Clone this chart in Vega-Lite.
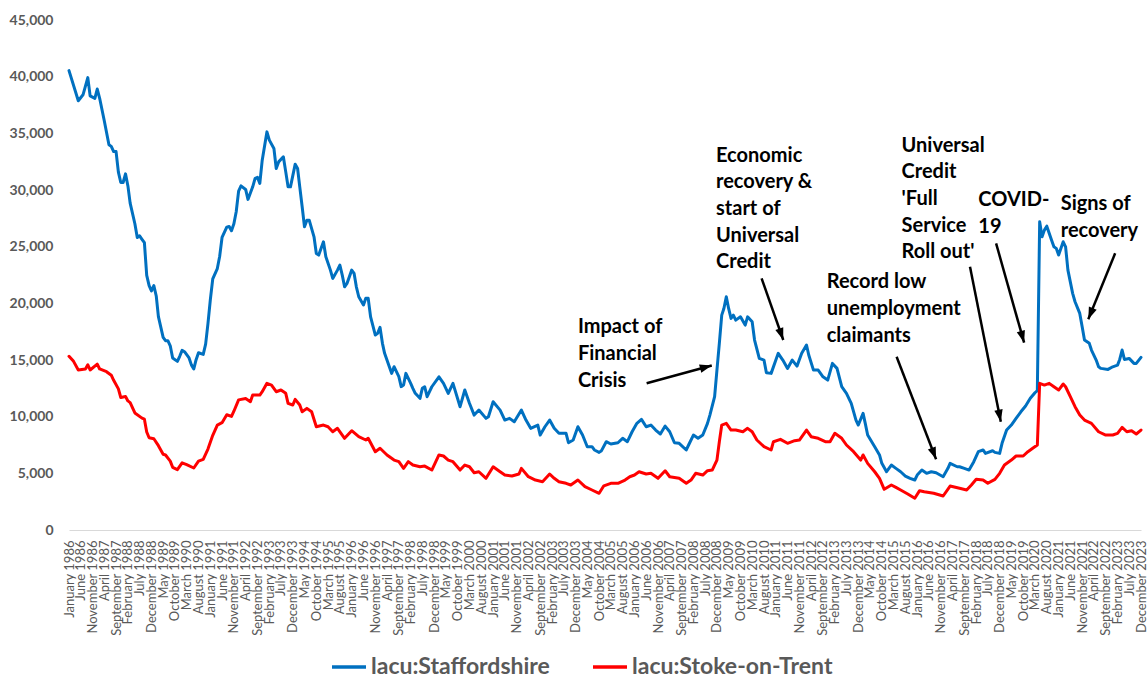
{
  "$schema": "https://vega.github.io/schema/vega-lite/v6.json",
  "width": 1072,
  "height": 510,
  "autosize": {"type": "none"},
  "padding": {"left": 69, "top": 20, "right": 6, "bottom": 149},
  "background": "white",
  "config": {
    "view": {"stroke": null},
    "font": "Lato",
    "axis": {"grid": false, "ticks": false, "tickSize": 0, "title": null}
  },
  "datasets": {
    "staffordshire": [
      {"month":"1986-01","claimants":40530},{"month":"1986-05","claimants":37880},{"month":"1986-07","claimants":38400},{"month":"1986-09","claimants":39920},{"month":"1986-10","claimants":38310},{"month":"1986-12","claimants":38090},
      {"month":"1987-01","claimants":38910},{"month":"1987-02","claimants":38090},{"month":"1987-04","claimants":36130},{"month":"1987-06","claimants":34000},{"month":"1987-07","claimants":33850},{"month":"1987-08","claimants":33390},{"month":"1987-09","claimants":33390},{"month":"1987-10","claimants":31570},{"month":"1987-11","claimants":30660},{"month":"1987-12","claimants":30660},
      {"month":"1988-01","claimants":31420},{"month":"1988-02","claimants":30360},{"month":"1988-03","claimants":28840},{"month":"1988-05","claimants":27020},{"month":"1988-06","claimants":25810},{"month":"1988-07","claimants":25960},{"month":"1988-08","claimants":25650},{"month":"1988-09","claimants":25350},{"month":"1988-10","claimants":22460},{"month":"1988-11","claimants":21560},{"month":"1988-12","claimants":21100},
      {"month":"1989-01","claimants":21560},{"month":"1989-02","claimants":20650},{"month":"1989-03","claimants":18820},{"month":"1989-05","claimants":17000},{"month":"1989-06","claimants":16700},{"month":"1989-07","claimants":16700},{"month":"1989-08","claimants":16250},{"month":"1989-09","claimants":15180},{"month":"1989-11","claimants":14880},{"month":"1989-12","claimants":15330},
      {"month":"1990-01","claimants":15850},{"month":"1990-02","claimants":15730},{"month":"1990-04","claimants":15180},{"month":"1990-05","claimants":14570},{"month":"1990-06","claimants":14210},{"month":"1990-07","claimants":15030},{"month":"1990-08","claimants":15640},{"month":"1990-10","claimants":15490},{"month":"1990-11","claimants":16400},{"month":"1990-12","claimants":18210},
      {"month":"1991-01","claimants":20340},{"month":"1991-02","claimants":22160},{"month":"1991-04","claimants":23070},{"month":"1991-05","claimants":24130},{"month":"1991-06","claimants":25810},{"month":"1991-08","claimants":26720},{"month":"1991-09","claimants":26780},{"month":"1991-10","claimants":26410},{"month":"1991-11","claimants":27020},{"month":"1991-12","claimants":28080},
      {"month":"1992-01","claimants":29900},{"month":"1992-02","claimants":30360},{"month":"1992-04","claimants":30050},{"month":"1992-05","claimants":29170},{"month":"1992-07","claimants":30280},{"month":"1992-08","claimants":31020},{"month":"1992-09","claimants":31110},{"month":"1992-10","claimants":30580},{"month":"1992-11","claimants":32630},
      {"month":"1993-01","claimants":35130},{"month":"1993-02","claimants":34400},{"month":"1993-04","claimants":33670},{"month":"1993-05","claimants":31900},{"month":"1993-06","claimants":32480},{"month":"1993-08","claimants":32930},{"month":"1993-09","claimants":31600},{"month":"1993-10","claimants":30280},{"month":"1993-11","claimants":30280},
      {"month":"1994-01","claimants":32280},{"month":"1994-02","claimants":31900},{"month":"1994-03","claimants":30280},{"month":"1994-04","claimants":28520},{"month":"1994-05","claimants":26750},{"month":"1994-06","claimants":27340},{"month":"1994-07","claimants":27340},{"month":"1994-09","claimants":25870},{"month":"1994-10","claimants":24400},{"month":"1994-11","claimants":24260},
      {"month":"1995-01","claimants":25430},{"month":"1995-02","claimants":24110},{"month":"1995-04","claimants":22930},{"month":"1995-05","claimants":22200},{"month":"1995-07","claimants":22930},{"month":"1995-08","claimants":23370},{"month":"1995-09","claimants":22490},{"month":"1995-10","claimants":21460},{"month":"1995-11","claimants":21760},
      {"month":"1996-01","claimants":22930},{"month":"1996-02","claimants":22640},{"month":"1996-03","claimants":21460},{"month":"1996-04","claimants":20580},{"month":"1996-06","claimants":19850},{"month":"1996-07","claimants":20440},{"month":"1996-08","claimants":20440},{"month":"1996-09","claimants":18810},{"month":"1996-11","claimants":17200},{"month":"1996-12","claimants":17350},
      {"month":"1997-01","claimants":17880},{"month":"1997-02","claimants":16470},{"month":"1997-03","claimants":15590},{"month":"1997-05","claimants":14410},{"month":"1997-06","claimants":13820},{"month":"1997-07","claimants":14410},{"month":"1997-09","claimants":13530},{"month":"1997-10","claimants":12650},{"month":"1997-11","claimants":12790},{"month":"1997-12","claimants":13820},
      {"month":"1998-02","claimants":12940},{"month":"1998-03","claimants":12500},{"month":"1998-04","claimants":12060},{"month":"1998-06","claimants":11620},{"month":"1998-07","claimants":12500},{"month":"1998-08","claimants":12640},{"month":"1998-09","claimants":11760},{"month":"1998-11","claimants":12640},
      {"month":"1999-02","claimants":13520},{"month":"1999-04","claimants":12940},{"month":"1999-06","claimants":12060},{"month":"1999-08","claimants":12940},{"month":"1999-11","claimants":10880},
      {"month":"2000-01","claimants":12350},{"month":"2000-03","claimants":11180},{"month":"2000-05","claimants":10140},{"month":"2000-07","claimants":10580},{"month":"2000-10","claimants":9850},{"month":"2000-11","claimants":9990},
      {"month":"2001-01","claimants":11320},{"month":"2001-04","claimants":10580},{"month":"2001-06","claimants":9700},{"month":"2001-08","claimants":9850},{"month":"2001-10","claimants":9550},
      {"month":"2002-01","claimants":10580},{"month":"2002-03","claimants":9700},{"month":"2002-05","claimants":8970},{"month":"2002-08","claimants":9260},{"month":"2002-09","claimants":8380},{"month":"2002-11","claimants":9110},
      {"month":"2003-01","claimants":9700},{"month":"2003-03","claimants":8970},{"month":"2003-05","claimants":8530},{"month":"2003-08","claimants":8530},{"month":"2003-09","claimants":7700},{"month":"2003-11","claimants":7940},
      {"month":"2004-01","claimants":9110},{"month":"2004-03","claimants":8380},{"month":"2004-05","claimants":7350},{"month":"2004-07","claimants":7350},{"month":"2004-08","claimants":7060},{"month":"2004-10","claimants":6850},{"month":"2004-11","claimants":7000},
      {"month":"2005-01","claimants":7790},{"month":"2005-03","claimants":7590},{"month":"2005-06","claimants":7700},{"month":"2005-08","claimants":8090},{"month":"2005-10","claimants":7790},{"month":"2005-12","claimants":8670},
      {"month":"2006-02","claimants":9410},{"month":"2006-04","claimants":9760},{"month":"2006-06","claimants":9110},{"month":"2006-08","claimants":9260},{"month":"2006-10","claimants":8820},{"month":"2006-12","claimants":8470},
      {"month":"2007-02","claimants":9170},{"month":"2007-04","claimants":8670},{"month":"2007-06","claimants":7700},{"month":"2007-08","claimants":7650},{"month":"2007-11","claimants":7060},{"month":"2007-12","claimants":7500},
      {"month":"2008-02","claimants":8380},{"month":"2008-04","claimants":8090},{"month":"2008-06","claimants":8380},{"month":"2008-08","claimants":9410},{"month":"2008-09","claimants":10140},{"month":"2008-11","claimants":11760},{"month":"2008-12","claimants":14110},
      {"month":"2009-01","claimants":16470},{"month":"2009-02","claimants":18960},{"month":"2009-03","claimants":19550},{"month":"2009-04","claimants":20580},{"month":"2009-05","claimants":19550},{"month":"2009-06","claimants":18670},{"month":"2009-07","claimants":18960},{"month":"2009-08","claimants":18520},{"month":"2009-10","claimants":18810},{"month":"2009-12","claimants":18080},
      {"month":"2010-01","claimants":18810},{"month":"2010-03","claimants":18370},{"month":"2010-04","claimants":16760},{"month":"2010-06","claimants":15140},{"month":"2010-08","claimants":14990},{"month":"2010-09","claimants":13870},{"month":"2010-11","claimants":13820},
      {"month":"2011-01","claimants":14990},{"month":"2011-02","claimants":15590},{"month":"2011-03","claimants":15300},{"month":"2011-04","claimants":14990},{"month":"2011-06","claimants":14260},{"month":"2011-08","claimants":14990},{"month":"2011-10","claimants":14460},{"month":"2011-12","claimants":15590},
      {"month":"2012-02","claimants":16320},{"month":"2012-03","claimants":15440},{"month":"2012-05","claimants":14110},{"month":"2012-07","claimants":14110},{"month":"2012-09","claimants":13520},{"month":"2012-11","claimants":13230},
      {"month":"2013-01","claimants":14700},{"month":"2013-03","claimants":14260},{"month":"2013-05","claimants":12640},{"month":"2013-07","claimants":12060},{"month":"2013-09","claimants":11180},{"month":"2013-11","claimants":9700},{"month":"2013-12","claimants":9260},
      {"month":"2014-02","claimants":10290},{"month":"2014-03","claimants":9410},{"month":"2014-04","claimants":8380},{"month":"2014-07","claimants":7350},{"month":"2014-09","claimants":6620},{"month":"2014-10","claimants":5880},{"month":"2014-12","claimants":5140},
      {"month":"2015-02","claimants":5730},{"month":"2015-04","claimants":5440},{"month":"2015-06","claimants":5140},{"month":"2015-08","claimants":4760},{"month":"2015-10","claimants":4560},{"month":"2015-12","claimants":4410},
      {"month":"2016-01","claimants":4850},{"month":"2016-03","claimants":5290},{"month":"2016-05","claimants":5000},{"month":"2016-07","claimants":5140},{"month":"2016-09","claimants":5050},{"month":"2016-12","claimants":4700},
      {"month":"2017-02","claimants":5440},{"month":"2017-03","claimants":5880},{"month":"2017-06","claimants":5580},{"month":"2017-07","claimants":5580},{"month":"2017-09","claimants":5440},{"month":"2017-11","claimants":5290},
      {"month":"2018-01","claimants":6030},{"month":"2018-03","claimants":6910},{"month":"2018-05","claimants":7060},{"month":"2018-06","claimants":6760},{"month":"2018-09","claimants":6990},{"month":"2018-10","claimants":6850},{"month":"2018-12","claimants":6760},
      {"month":"2019-01","claimants":7650},{"month":"2019-03","claimants":8820},{"month":"2019-05","claimants":9260},{"month":"2019-07","claimants":9850},{"month":"2019-09","claimants":10430},{"month":"2019-11","claimants":10940},
      {"month":"2020-01","claimants":11620},{"month":"2020-03","claimants":12110},{"month":"2020-04","claimants":12300},{"month":"2020-05","claimants":27190},{"month":"2020-06","claimants":25870},{"month":"2020-07","claimants":26460},{"month":"2020-08","claimants":26810},{"month":"2020-10","claimants":25580},{"month":"2020-11","claimants":24990},{"month":"2020-12","claimants":24850},
      {"month":"2021-01","claimants":24260},{"month":"2021-03","claimants":25430},{"month":"2021-04","claimants":24990},{"month":"2021-05","claimants":22930},{"month":"2021-07","claimants":20880},{"month":"2021-08","claimants":20140},{"month":"2021-10","claimants":19110},{"month":"2021-11","claimants":17930},{"month":"2021-12","claimants":16760},
      {"month":"2022-02","claimants":16470},{"month":"2022-03","claimants":15880},{"month":"2022-05","claimants":14990},{"month":"2022-06","claimants":14400},{"month":"2022-07","claimants":14260},{"month":"2022-10","claimants":14170},{"month":"2022-12","claimants":14400},
      {"month":"2023-02","claimants":14550},{"month":"2023-03","claimants":15050},{"month":"2023-04","claimants":15880},{"month":"2023-05","claimants":15050},{"month":"2023-07","claimants":15140},{"month":"2023-09","claimants":14700},{"month":"2023-10","claimants":14700},{"month":"2023-12","claimants":15230}
    ],
    "stoke": [
      {"month":"1986-01","claimants":15330},{"month":"1986-03","claimants":14880},{"month":"1986-05","claimants":14120},{"month":"1986-08","claimants":14210},{"month":"1986-09","claimants":14570},{"month":"1986-10","claimants":14120},
      {"month":"1987-01","claimants":14630},{"month":"1987-02","claimants":14210},{"month":"1987-05","claimants":13970},{"month":"1987-07","claimants":13660},{"month":"1987-08","claimants":13210},{"month":"1987-10","claimants":12450},{"month":"1987-11","claimants":11690},
      {"month":"1988-01","claimants":11780},{"month":"1988-02","claimants":11390},{"month":"1988-03","claimants":11240},{"month":"1988-05","claimants":10330},{"month":"1988-08","claimants":9870},{"month":"1988-09","claimants":9780},{"month":"1988-10","claimants":8650},{"month":"1988-11","claimants":8140},
      {"month":"1989-01","claimants":8050},{"month":"1989-03","claimants":7440},{"month":"1989-05","claimants":6680},{"month":"1989-06","claimants":6620},{"month":"1989-08","claimants":6080},{"month":"1989-09","claimants":5530},{"month":"1989-11","claimants":5320},
      {"month":"1990-01","claimants":5930},{"month":"1990-03","claimants":5770},{"month":"1990-06","claimants":5470},{"month":"1990-08","claimants":6080},{"month":"1990-10","claimants":6230},{"month":"1990-12","claimants":7140},
      {"month":"1991-02","claimants":8350},{"month":"1991-04","claimants":9260},{"month":"1991-06","claimants":9470},{"month":"1991-08","claimants":10170},{"month":"1991-10","claimants":10020},{"month":"1991-11","claimants":10480},
      {"month":"1992-01","claimants":11480},{"month":"1992-04","claimants":11600},{"month":"1992-06","claimants":11320},{"month":"1992-07","claimants":11910},{"month":"1992-10","claimants":11910},{"month":"1992-11","claimants":12200},
      {"month":"1993-01","claimants":12940},{"month":"1993-03","claimants":12790},{"month":"1993-05","claimants":12200},{"month":"1993-07","claimants":12350},{"month":"1993-09","claimants":12060},{"month":"1993-10","claimants":11180},{"month":"1993-12","claimants":11030},
      {"month":"1994-01","claimants":11530},{"month":"1994-03","claimants":11030},{"month":"1994-04","claimants":10430},{"month":"1994-06","claimants":10730},{"month":"1994-08","claimants":10430},{"month":"1994-10","claimants":9110},
      {"month":"1995-01","claimants":9260},{"month":"1995-03","claimants":9110},{"month":"1995-05","claimants":8670},{"month":"1995-07","claimants":8970},{"month":"1995-10","claimants":8090},
      {"month":"1996-01","claimants":8760},{"month":"1996-04","claimants":8230},{"month":"1996-07","claimants":7940},{"month":"1996-08","claimants":8090},{"month":"1996-11","claimants":6910},
      {"month":"1997-01","claimants":7210},{"month":"1997-04","claimants":6620},{"month":"1997-07","claimants":6170},{"month":"1997-09","claimants":6030},{"month":"1997-11","claimants":5440},
      {"month":"1998-01","claimants":6030},{"month":"1998-03","claimants":5730},{"month":"1998-06","claimants":5580},{"month":"1998-08","claimants":5640},{"month":"1998-11","claimants":5290},
      {"month":"1999-02","claimants":6620},{"month":"1999-04","claimants":6530},{"month":"1999-06","claimants":6170},{"month":"1999-08","claimants":6030},{"month":"1999-11","claimants":5290},
      {"month":"2000-01","claimants":5730},{"month":"2000-03","claimants":5580},{"month":"2000-05","claimants":5050},{"month":"2000-07","claimants":5140},{"month":"2000-10","claimants":4560},
      {"month":"2001-01","claimants":5580},{"month":"2001-04","claimants":5140},{"month":"2001-06","claimants":4850},{"month":"2001-09","claimants":4760},{"month":"2001-12","claimants":4940},
      {"month":"2002-01","claimants":5440},{"month":"2002-04","claimants":4700},{"month":"2002-07","claimants":4410},{"month":"2002-10","claimants":4260},
      {"month":"2003-01","claimants":4940},{"month":"2003-03","claimants":4560},{"month":"2003-05","claimants":4260},{"month":"2003-08","claimants":4120},{"month":"2003-10","claimants":3970},
      {"month":"2004-01","claimants":4410},{"month":"2004-04","claimants":3820},{"month":"2004-07","claimants":3530},{"month":"2004-10","claimants":3240},{"month":"2004-12","claimants":3900},
      {"month":"2005-03","claimants":4120},{"month":"2005-06","claimants":4120},{"month":"2005-09","claimants":4410},{"month":"2005-11","claimants":4700},
      {"month":"2006-01","claimants":4850},{"month":"2006-03","claimants":5140},{"month":"2006-06","claimants":4940},{"month":"2006-08","claimants":5000},{"month":"2006-11","claimants":4560},
      {"month":"2007-02","claimants":5230},{"month":"2007-04","claimants":4700},{"month":"2007-08","claimants":4560},{"month":"2007-11","claimants":4120},
      {"month":"2008-01","claimants":4410},{"month":"2008-03","claimants":5000},{"month":"2008-06","claimants":4850},{"month":"2008-08","claimants":5230},{"month":"2008-10","claimants":5290},{"month":"2008-12","claimants":6170},
      {"month":"2009-01","claimants":7790},{"month":"2009-02","claimants":9260},{"month":"2009-04","claimants":9410},{"month":"2009-06","claimants":8820},{"month":"2009-08","claimants":8820},{"month":"2009-11","claimants":8670},
      {"month":"2010-01","claimants":8970},{"month":"2010-03","claimants":8670},{"month":"2010-05","claimants":7940},{"month":"2010-08","claimants":7350},{"month":"2010-11","claimants":7060},{"month":"2010-12","claimants":7790},
      {"month":"2011-03","claimants":8000},{"month":"2011-06","claimants":7650},{"month":"2011-09","claimants":7880},{"month":"2011-11","claimants":7940},
      {"month":"2012-02","claimants":8820},{"month":"2012-04","claimants":8230},{"month":"2012-07","claimants":8090},{"month":"2012-10","claimants":7790},{"month":"2012-12","claimants":7790},
      {"month":"2013-02","claimants":8530},{"month":"2013-05","claimants":8090},{"month":"2013-07","claimants":7500},{"month":"2013-10","claimants":6910},
      {"month":"2014-01","claimants":6170},{"month":"2014-02","claimants":6620},{"month":"2014-04","claimants":5880},{"month":"2014-07","claimants":5140},{"month":"2014-09","claimants":4560},{"month":"2014-11","claimants":3590},
      {"month":"2015-02","claimants":3970},{"month":"2015-04","claimants":3760},{"month":"2015-06","claimants":3530},{"month":"2015-09","claimants":3180},{"month":"2015-12","claimants":2800},
      {"month":"2016-02","claimants":3470},{"month":"2016-04","claimants":3380},{"month":"2016-08","claimants":3240},{"month":"2016-12","claimants":3000},
      {"month":"2017-03","claimants":3880},{"month":"2017-07","claimants":3680},{"month":"2017-10","claimants":3530},{"month":"2017-12","claimants":3970},
      {"month":"2018-02","claimants":4470},{"month":"2018-05","claimants":4410},{"month":"2018-07","claimants":4120},{"month":"2018-10","claimants":4470},{"month":"2018-12","claimants":5000},
      {"month":"2019-02","claimants":5730},{"month":"2019-05","claimants":6170},{"month":"2019-07","claimants":6530},{"month":"2019-10","claimants":6530},{"month":"2019-12","claimants":6910},
      {"month":"2020-02","claimants":7210},{"month":"2020-04","claimants":7500},{"month":"2020-05","claimants":12940},{"month":"2020-07","claimants":12790},{"month":"2020-09","claimants":12940},{"month":"2020-11","claimants":12640},
      {"month":"2021-01","claimants":12350},{"month":"2021-03","claimants":12880},{"month":"2021-04","claimants":12640},{"month":"2021-06","claimants":11760},{"month":"2021-08","claimants":10880},{"month":"2021-10","claimants":10140},{"month":"2021-12","claimants":9700},
      {"month":"2022-03","claimants":9410},{"month":"2022-06","claimants":8670},{"month":"2022-09","claimants":8380},{"month":"2022-12","claimants":8380},
      {"month":"2023-02","claimants":8530},{"month":"2023-04","claimants":9060},{"month":"2023-06","claimants":8670},{"month":"2023-08","claimants":8760},{"month":"2023-10","claimants":8470},{"month":"2023-12","claimants":8820}
    ],
    "notes": [
      {"month":"2004-01-01","claimants":17350,"lines":["Impact of","Financial","Crisis"]},
      {"month":"2008-11-19","claimants":32500,"lines":["Economic","recovery &","start of","Universal","Credit"]},
      {"month":"2012-10-19","claimants":21330,"lines":["Record low","unemployment","claimants"]},
      {"month":"2015-06-13","claimants":33380,"lines":["Universal","Credit","'Full","Service","Roll out'"]},
      {"month":"2018-02-28","claimants":28600,"lines":["COVID-","19"]},
      {"month":"2021-01-28","claimants":28240,"lines":["Signs of","recovery"]}
    ],
    "arrows": [
      {"note":"crisis","month":"2006-06-07","claimants":12944,"month2":"2008-09-25","claimants2":14515},
      {"note":"uc","month":"2010-07-01","claimants":22209,"month2":"2011-04-07","claimants2":16765},
      {"note":"low","month":"2015-04-10","claimants":15291,"month2":"2016-09-01","claimants2":6238},
      {"note":"fullservice","month":"2017-11-13","claimants":23232,"month2":"2018-12-16","claimants2":9556},
      {"note":"covid","month":"2018-10-16","claimants":25297,"month2":"2019-10-13","claimants2":16527},
      {"note":"recovery","month":"2023-01-01","claimants":24415,"month2":"2022-01-19","claimants2":18591}
    ]
  },
  "encoding": {
    "x": {
      "field": "month",
      "type": "temporal",
      "scale": {
        "type": "utc",
        "nice": false,
        "domain": [{"year": 1986, "month": 1, "date": 1, "utc": true}, {"year": 2023, "month": 12, "date": 1, "utc": true}]
      },
      "axis": {
        "domain": true,
        "domainColor": "#d9d9d9",
        "domainWidth": 1,
        "tickCount": {"interval": "month", "step": 1},
        "labelExpr": "(utcyear(datum.value) * 12 + utcmonth(datum.value) - 23832) % 5 === 0 ? utcFormat(datum.value, '%B %Y') : ''",
        "labelAngle": -90,
        "labelAlign": "right",
        "labelBaseline": "middle",
        "labelPadding": 10,
        "labelFont": "Lato",
        "labelFontSize": 13,
        "labelColor": "#595959",
        "labelOverlap": false,
        "labelFlush": false,
        "labelBound": false
      }
    },
    "y": {
      "field": "claimants",
      "type": "quantitative",
      "scale": {"domain": [0, 45000], "nice": false},
      "axis": {
        "domain": false,
        "values": [0, 5000, 10000, 15000, 20000, 25000, 30000, 35000, 40000, 45000],
        "format": ",.0f",
        "labelFont": "Lato",
        "labelFontSize": 14,
        "labelFontWeight": "bold",
        "labelColor": "#595959",
        "labelPadding": 16
      }
    }
  },
  "layer": [
    {
      "data": {"name": "staffordshire"},
      "mark": {"type": "line", "strokeWidth": 3, "strokeJoin": "round", "strokeCap": "round"},
      "encoding": {
        "color": {
          "datum": "lacu:Staffordshire",
          "type": "nominal",
          "scale": {"domain": ["lacu:Staffordshire", "lacu:Stoke-on-Trent"], "range": ["#0070C0", "#FF0000"]},
          "legend": {
            "orient": "none",
            "legendX": 261,
            "legendY": 628,
            "direction": "horizontal",
            "title": null,
            "padding": 0,
            "symbolType": "stroke",
            "symbolSize": 1156,
            "symbolStrokeWidth": 3.5,
            "labelFont": "Lato",
            "labelFontSize": 23,
            "labelFontWeight": "bold",
            "labelColor": "#595959",
            "labelOffset": 3,
            "labelLimit": 0,
            "columnPadding": 36
          }
        }
      }
    },
    {
      "data": {"name": "stoke"},
      "mark": {"type": "line", "strokeWidth": 3, "strokeJoin": "round", "strokeCap": "round"},
      "encoding": {
        "color": {"datum": "lacu:Stoke-on-Trent", "type": "nominal"}
      }
    },
    {
      "data": {"name": "notes"},
      "mark": {"type": "text", "align": "left", "baseline": "alphabetic", "font": "Lato", "fontSize": 20, "fontWeight": "bold", "color": "#000000", "lineHeight": 26.7},
      "encoding": {"text": {"field": "lines"}}
    },
    {
      "data": {"name": "arrows"},
      "mark": {"type": "rule", "strokeWidth": 2.5, "color": "#000000", "strokeCap": "butt"},
      "encoding": {
        "x2": {"field": "month2"},
        "y2": {"field": "claimants2"}
      }
    },
    {
      "data": {"name": "arrows"},
      "transform": [{"filter": "datum.note === 'crisis'"}],
      "mark": {"type": "point", "shape": "M0,0L-0.42,1.2L0.42,1.2Z", "filled": true, "opacity": 1, "size": 400, "color": "#000000", "angle": 74.7},
      "encoding": {"x": {"field": "month2", "type": "temporal"}, "y": {"field": "claimants2", "type": "quantitative"}}
    },
    {
      "data": {"name": "arrows"},
      "transform": [{"filter": "datum.note === 'uc'"}],
      "mark": {"type": "point", "shape": "M0,0L-0.42,1.2L0.42,1.2Z", "filled": true, "opacity": 1, "size": 400, "color": "#000000", "angle": 160.7},
      "encoding": {"x": {"field": "month2", "type": "temporal"}, "y": {"field": "claimants2", "type": "quantitative"}}
    },
    {
      "data": {"name": "arrows"},
      "transform": [{"filter": "datum.note === 'low'"}],
      "mark": {"type": "point", "shape": "M0,0L-0.42,1.2L0.42,1.2Z", "filled": true, "opacity": 1, "size": 400, "color": "#000000", "angle": 159.0},
      "encoding": {"x": {"field": "month2", "type": "temporal"}, "y": {"field": "claimants2", "type": "quantitative"}}
    },
    {
      "data": {"name": "arrows"},
      "transform": [{"filter": "datum.note === 'fullservice'"}],
      "mark": {"type": "point", "shape": "M0,0L-0.42,1.2L0.42,1.2Z", "filled": true, "opacity": 1, "size": 400, "color": "#000000", "angle": 168.8},
      "encoding": {"x": {"field": "month2", "type": "temporal"}, "y": {"field": "claimants2", "type": "quantitative"}}
    },
    {
      "data": {"name": "arrows"},
      "transform": [{"filter": "datum.note === 'covid'"}],
      "mark": {"type": "point", "shape": "M0,0L-0.42,1.2L0.42,1.2Z", "filled": true, "opacity": 1, "size": 400, "color": "#000000", "angle": 164.3},
      "encoding": {"x": {"field": "month2", "type": "temporal"}, "y": {"field": "claimants2", "type": "quantitative"}}
    },
    {
      "data": {"name": "arrows"},
      "transform": [{"filter": "datum.note === 'recovery'"}],
      "mark": {"type": "point", "shape": "M0,0L-0.42,1.2L0.42,1.2Z", "filled": true, "opacity": 1, "size": 400, "color": "#000000", "angle": 202.0},
      "encoding": {"x": {"field": "month2", "type": "temporal"}, "y": {"field": "claimants2", "type": "quantitative"}}
    }
  ]
}
